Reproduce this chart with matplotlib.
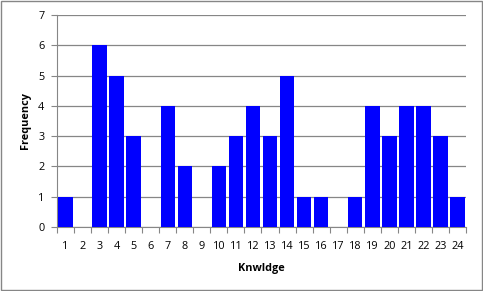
import matplotlib.pyplot as plt

categories = [str(i) for i in range(1, 25)]
frequency = [1, 0, 6, 5, 3, 0, 4, 2, 0, 2, 3, 4, 3, 5, 1, 1, 0, 1, 4, 3, 4, 4, 3, 1]

plt.rcParams['font.family'] = ['Open Sans', 'DejaVu Sans']

fig = plt.figure(figsize=(4.83, 2.91), dpi=100)
ax = fig.add_axes([57 / 483, 1 - 227 / 291, (466 - 57) / 483, (227 - 15) / 291])

x = list(range(len(categories)))
ax.bar(x, frequency, width=0.85, color='#0000FF', zorder=3)

ax.set_xlim(-0.5, len(categories) - 0.5)
ax.set_ylim(0, 7)
ax.set_yticks(range(0, 8))
ax.set_xticks([i - 0.5 for i in range(len(categories) + 1)], minor=False)
ax.set_xticklabels([])
ax.set_xticks(x, minor=True)
ax.set_xticklabels(categories, minor=True, fontsize=7.8)
ax.tick_params(axis='x', which='major', length=4, color='#868686')
ax.tick_params(axis='x', which='minor', length=0, pad=10)
ax.tick_params(axis='y', length=4, color='#868686', labelsize=7.8, pad=5)

ax.grid(axis='y', color='#868686', linewidth=0.9, zorder=0)
for side in ['top', 'right']:
    ax.spines[side].set_visible(False)
for side in ['left', 'bottom']:
    ax.spines[side].set_color('#868686')

ax.set_xlabel('Knwldge', fontsize=7.8, fontweight='bold', labelpad=8)
ax.set_ylabel('Frequency', fontsize=7.8, fontweight='bold', labelpad=5)

border = plt.Rectangle((0.002, 0.003), 0.995, 0.994, transform=fig.transFigure,
                       fill=False, edgecolor='#868686', linewidth=1)
fig.patches.append(border)

fig.savefig('out.png', dpi=100)
